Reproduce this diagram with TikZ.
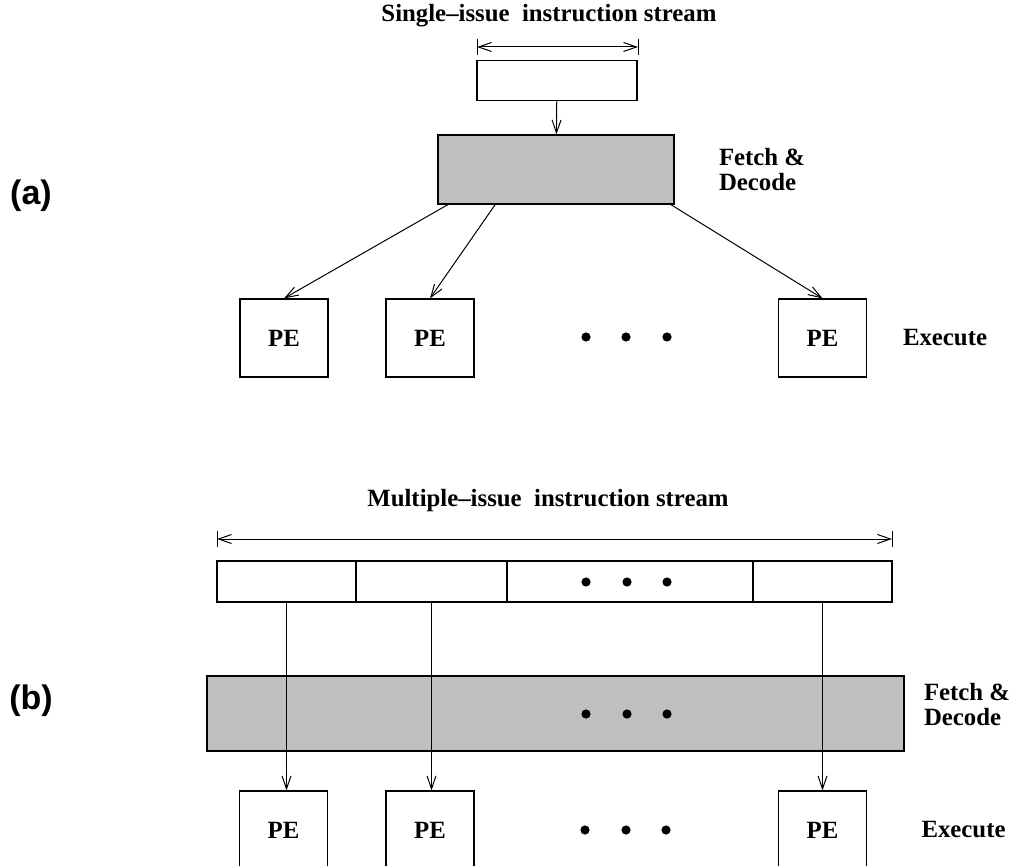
\documentclass[tikz,border=0pt]{standalone}
\usepackage{fontspec}
\setmainfont{Liberation Serif}
\newfontfamily\partfont{Liberation Sans}
\usetikzlibrary{arrows.meta, positioning}
\definecolor{fdgray}{RGB}{191, 191, 191}

\begin{document}
\begin{tikzpicture}[
    x=0.5pt, y=-0.5pt,
    lbl/.style={font=\bfseries\fontsize{12.4}{12.5}\selectfont, inner sep=0pt},
    stage/.style={lbl, align=left},
    partlbl/.style={font=\partfont\bfseries\fontsize{17}{17}\selectfont, inner sep=0pt},
    slot/.style={draw, line width=0.6pt, fill=white, inner sep=0pt},
    fdbox/.style={draw, line width=0.6pt, fill=fdgray, inner sep=0pt},
    pebox/.style={draw, line width=0.6pt, lbl, minimum width=44pt, minimum height=39pt},
    dot/.style={circle, fill=black, inner sep=0pt, minimum size=4.6pt},
    arrow/.style={-{Straight Barb[length=6.5pt, width=4.5pt]}, line width=0.5pt},
    dimline/.style={{Straight Barb[length=6.5pt, width=4.5pt]}-{Straight Barb[length=6.5pt, width=4.5pt]}, line width=0.5pt}
]
\useasboundingbox (0,0) rectangle (1013,866);

% (a) Single-issue stream
\node (titleA) [lbl, anchor=base] at (549,22) {Single--issue~~instruction stream};
\coordinate (dimAL) at (477,47);
\coordinate (dimAR) at (638,47);
\node (isA) [slot, minimum width=80pt, minimum height=20pt] at (557,80.5) {};
\node (fdA) [fdbox, minimum width=118pt, minimum height=34.5pt] at (556,169.5) {};
\node (fdAtxt) [stage, right=22pt of fdA] {Fetch \&\\Decode};
\node (peA1) [pebox] at (284,338) {PE};
\node (peA2) [pebox] at (430,338) {PE};
\node (peA3) [pebox] at (822.5,338) {PE};
\node (exA) [lbl, right=17.75pt of peA3] {Execute};
\foreach \dx [count=\i] in {586,626,667}
    \node (dotA\i) [dot] at (\dx,337) {};
\node (partA) [partlbl] at (31,196) {(a)};

% (b) Multiple-issue stream
\node (titleB) [lbl, anchor=base] at (548,507) {Multiple--issue~~instruction stream};
\coordinate (dimBL) at (217,539);
\coordinate (dimBR) at (892,539);
\node (c1) [slot, minimum width=69.5pt, minimum height=20.5pt] at (286.5,581.5) {};
\node (c2) [slot, minimum width=75.5pt, minimum height=20.5pt] at (431.5,581.5) {};
\node (c3) [slot, minimum width=123pt, minimum height=20.5pt] at (630,581.5) {};
\node (c4) [slot, minimum width=69.5pt, minimum height=20.5pt] at (822.5,581.5) {};
\node (fdB) [fdbox, minimum width=348.5pt, minimum height=37.5pt] at (555.5,713.5) {};
\node (fdBtxt) [stage, right=9.5pt of fdB, yshift=4.5pt] {Fetch \&\\Decode};
\node (peB1) [pebox] at (283.5,830) {PE};
\node (peB2) [pebox] at (430,830) {PE};
\node (peB3) [pebox] at (822.5,830) {PE};
\node (exB) [lbl, right=27pt of peB3] {Execute};
\foreach \dx [count=\i] in {586,627,667} {
    \node (dotS\i) [dot] at (\dx,582) {};
    \node (dotF\i) [dot] at (\dx,714) {};
}
\foreach \dx [count=\i] in {585,626,666}
    \node (dotB\i) [dot] at (\dx,830) {};
\node (partB) [partlbl] at (31,701) {(b)};

% Width markers
\draw [dimline] (dimAL) -- (dimAR);
\draw [line width=0.5pt] (dimAL) ++(0,-8) -- ++(0,16);
\draw [line width=0.5pt] (dimAR) ++(0,-8) -- ++(0,16);
\draw [dimline] (dimBL) -- (dimBR);
\draw [line width=0.5pt] (dimBL) ++(0,-8) -- ++(0,16);
\draw [line width=0.5pt] (dimBR) ++(0,-8) -- ++(0,16);

% Connectors
\draw [arrow] (isA) -- (fdA);
\draw [arrow] (fdA.-162) -- (peA1.north);
\draw [arrow] (fdA.-150) -- (peA2.north);
\draw [arrow] (fdA.-17) -- (peA3.north);
\draw [arrow] (c1.south) -- (c1.south |- peB1.north);
\draw [arrow] (c2.south) -- (c2.south |- peB2.north);
\draw [arrow] (c4.south) -- (c4.south |- peB3.north);

\end{tikzpicture}
\end{document}
